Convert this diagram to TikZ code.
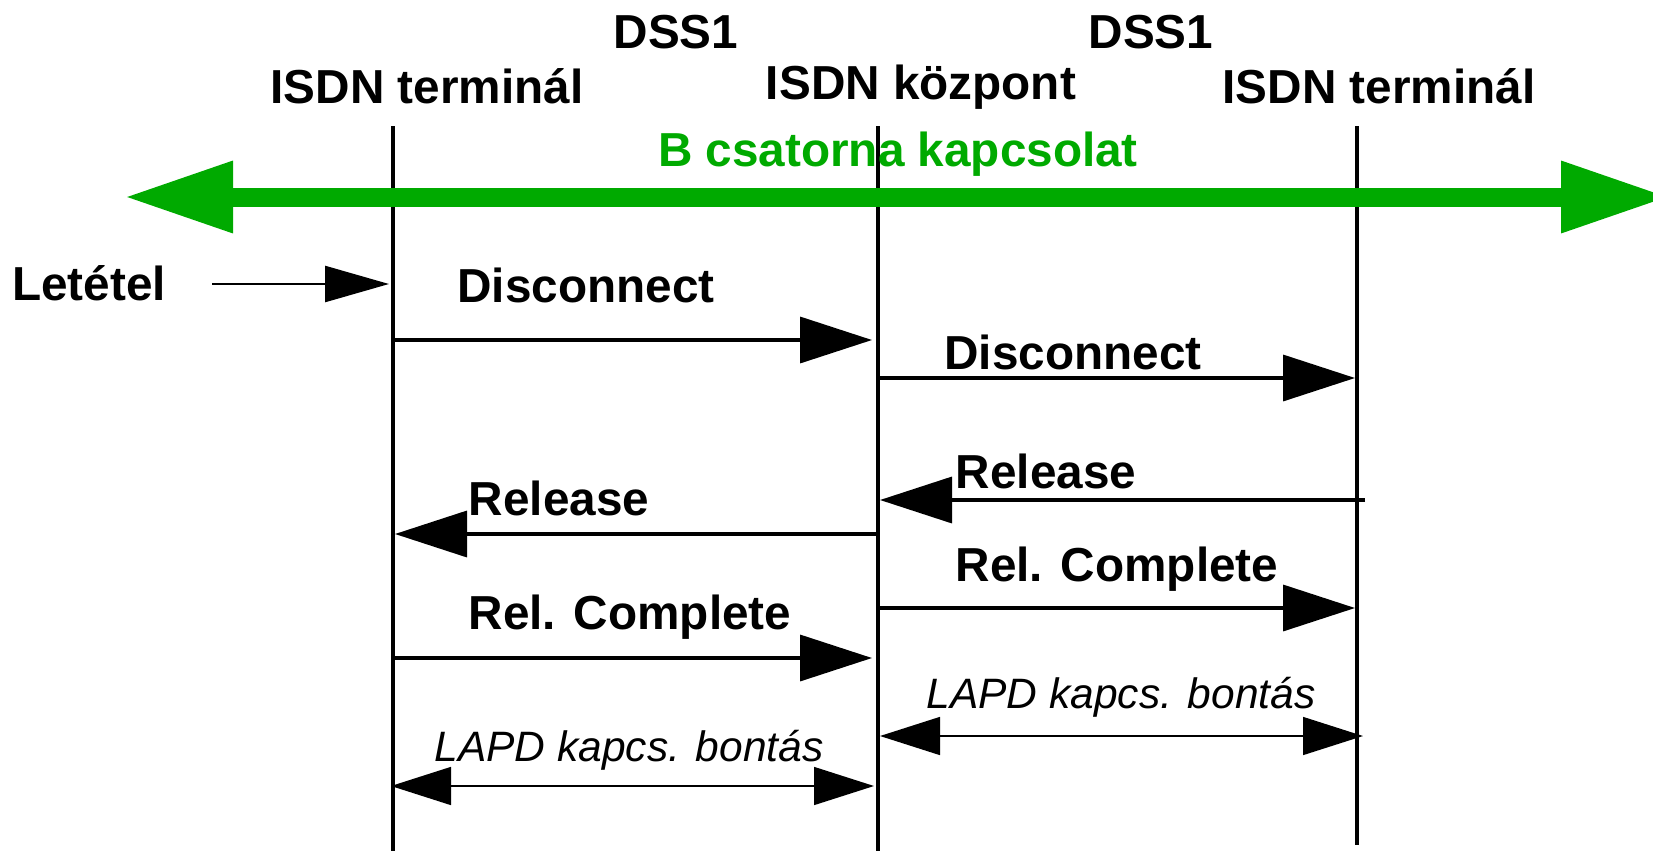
\documentclass[tikz,border=0pt]{standalone}
\usepackage{fontspec}
\setmainfont{Liberation Sans}
\usetikzlibrary{arrows.meta}
\definecolor{bchan}{RGB}{0,170,0}
\tikzset{
  lbl/.style={font=\fontsize{23.85}{28}\selectfont\bfseries,anchor=base,inner sep=0pt},
  lapdlbl/.style={font=\fontsize{21.25}{26}\selectfont\itshape,anchor=base,inner sep=0pt},
  lifeline/.style={line width=1.6pt},
  msg/.style={line width=1.75pt,-{Triangle[length=36pt,width=23pt]}},
  lapd/.style={line width=0.75pt,{Triangle[length=30pt,width=19pt]}-{Triangle[length=30pt,width=19pt]}},
  hangup/.style={line width=1.25pt,-{Triangle[length=32pt,width=18pt]}},
  bconn/.style={draw=bchan,line width=9.5pt,{Triangle[length=54.5pt,width=33.5pt]}-{Triangle[length=54.5pt,width=33.5pt]}}
}
\begin{document}
\begin{tikzpicture}[x=0.5pt,y=-0.5pt]
\useasboundingbox (0,0) rectangle (1653,851);
% Lifelines
\coordinate (term1-top) at (393,126);
\coordinate (term1-bot) at (393,851);
\coordinate (kozp-top) at (878,126);
\coordinate (kozp-bot) at (878,851);
\coordinate (term2-top) at (1357,126);
\coordinate (term2-bot) at (1357,845);
\draw[lifeline] (term1-top) -- (term1-bot);
\draw[lifeline] (kozp-top) -- (kozp-bot);
\draw[lifeline] (term2-top) -- (term2-bot);
% Headings
\node[lbl] (dss-left) at (676,48) {DSS1};
\node[lbl] (dss-right) at (1151,48) {DSS1};
\node[lbl] (term1) at (427,103) {ISDN terminál};
\node[lbl] (kozp) at (921,99) {ISDN központ};
\node[lbl] (term2) at (1379,103) {ISDN terminál};
% B channel
\coordinate (bch-left) at (124,197);
\coordinate (bch-right) at (1670,197);
\draw[bconn] (bch-left) -- (bch-right);
\node[lbl,text=bchan] (bch) at (898,166) {B csatorna kapcsolat};
% Hang up
\node[lbl] (letetel) at (89,300) {Letétel};
\coordinate (lete-a) at (212,284);
\coordinate (lete-b) at (389,284);
\draw[hangup] (lete-a) -- (lete-b);
% Disconnect
\coordinate (disc1-a) at (393,340);
\coordinate (disc1-b) at (872,340);
\draw[msg] (disc1-a) -- (disc1-b);
\node[lbl] (disc1) at (586,302) {Disconnect};
\coordinate (disc2-a) at (878,378);
\coordinate (disc2-b) at (1355,378);
\draw[msg] (disc2-a) -- (disc2-b);
\node[lbl] (disc2) at (1073,369) {Disconnect};
% Release
\coordinate (rel2-a) at (1365,500);
\coordinate (rel2-b) at (880,500);
\draw[msg] (rel2-a) -- (rel2-b);
\node[lbl] (rel2) at (1046,488) {Release};
\coordinate (rel1-a) at (876,534);
\coordinate (rel1-b) at (395,534);
\draw[msg] (rel1-a) -- (rel1-b);
\node[lbl] (rel1) at (559,515) {Release};
% Release complete
\coordinate (relc2-a) at (878,608);
\coordinate (relc2-b) at (1355,608);
\draw[msg] (relc2-a) -- (relc2-b);
\node[lbl] (relc2) at (1117,581) {Rel. Complete};
\coordinate (relc1-a) at (393,658);
\coordinate (relc1-b) at (872,658);
\draw[msg] (relc1-a) -- (relc1-b);
\node[lbl] (relc1) at (630,629) {Rel. Complete};
% LAPD release
\coordinate (lapd2-a) at (880,736);
\coordinate (lapd2-b) at (1363,736);
\draw[lapd] (lapd2-a) -- (lapd2-b);
\node[lapdlbl] (lapd2) at (1121,708) {LAPD kapcs. bontás};
\coordinate (lapd1-a) at (391,786);
\coordinate (lapd1-b) at (874,786);
\draw[lapd] (lapd1-a) -- (lapd1-b);
\node[lapdlbl] (lapd1) at (629,761) {LAPD kapcs. bontás};
\end{tikzpicture}
\end{document}
